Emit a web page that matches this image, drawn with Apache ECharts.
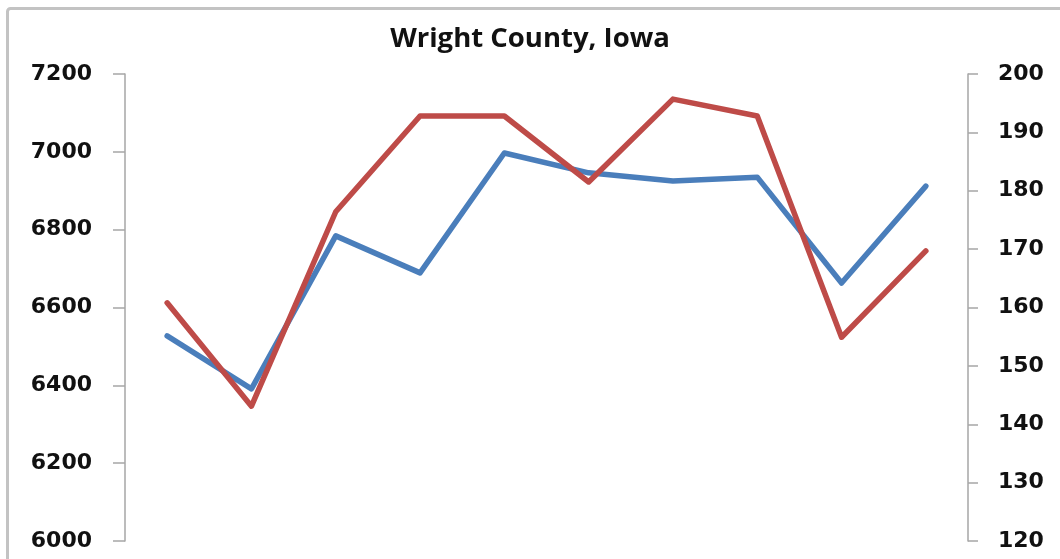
<!DOCTYPE html>
<html>
<head>
<meta charset="utf-8">
<script src="https://cdn.jsdelivr.net/npm/echarts@6/dist/echarts.min.js"></script>
<style>html,body{margin:0;padding:0;background:#fff;}#c{width:1060px;height:559px;}</style>
</head>
<body>
<div id="c"></div>
<script>
var titleText = 'Wright County, Iowa';
var categories = ['1','2','3','4','5','6','7','8','9','10'];
var blueValues = [6527, 6391, 6784, 6689, 6997, 6946, 6925, 6935, 6663, 6912];
var redValues = [160.8, 143.1, 176.4, 192.8, 192.8, 181.5, 195.7, 192.8, 154.9, 169.7];
var leftTicks = [6000, 7200, 200];
var rightTicks = [120, 200, 10];

var chart = echarts.init(document.getElementById('c'));
var labelStyle = {color: '#111', fontFamily: '"DejaVu Sans", Verdana, sans-serif', fontWeight: 'bold', fontSize: 22,
  padding: [6, 0, 0, 0],
  formatter: function (v) { return String(v); }};
chart.setOption({
  animation: false,
  backgroundColor: '#fff',
  graphic: [{
    type: 'rect', silent: true,
    shape: {x: 7.5, y: 8.5, width: 1200, height: 800, r: 3},
    style: {fill: 'none', stroke: '#c3c3c3', lineWidth: 3}
  }],
  title: {
    text: titleText, left: 'center', top: 20,
    textStyle: {fontFamily: '"Open Sans"', fontWeight: 'bold', fontSize: 27.5, color: '#111'}
  },
  grid: {left: 125, right: 92, top: 74, bottom: 18},
  xAxis: {
    type: 'category', data: categories, boundaryGap: true,
    axisLine: {show: false}, axisTick: {show: false}, axisLabel: {show: false}
  },
  yAxis: [{
    type: 'value', position: 'left', min: leftTicks[0], max: leftTicks[1], interval: leftTicks[2],
    axisLine: {show: true, lineStyle: {color: '#a6a6a6', width: 1.5}},
    axisTick: {show: true, length: 12, lineStyle: {color: '#a6a6a6', width: 1.5}},
    axisLabel: Object.assign({margin: 33}, labelStyle),
    splitLine: {show: false}
  }, {
    type: 'value', position: 'right', min: rightTicks[0], max: rightTicks[1], interval: rightTicks[2],
    axisLine: {show: true, lineStyle: {color: '#a6a6a6', width: 1.5}},
    axisTick: {show: true, length: 10, lineStyle: {color: '#a6a6a6', width: 1.5}},
    axisLabel: Object.assign({margin: 30}, labelStyle),
    splitLine: {show: false}
  }],
  series: [{
    type: 'line', yAxisIndex: 0, data: blueValues, symbol: 'none',
    lineStyle: {color: '#4a7ebb', width: 5.5, cap: 'round', join: 'round'}
  }, {
    type: 'line', yAxisIndex: 1, data: redValues, symbol: 'none',
    lineStyle: {color: '#be4b48', width: 5.5, cap: 'round', join: 'round'}
  }]
});
</script>
</body>
</html>
